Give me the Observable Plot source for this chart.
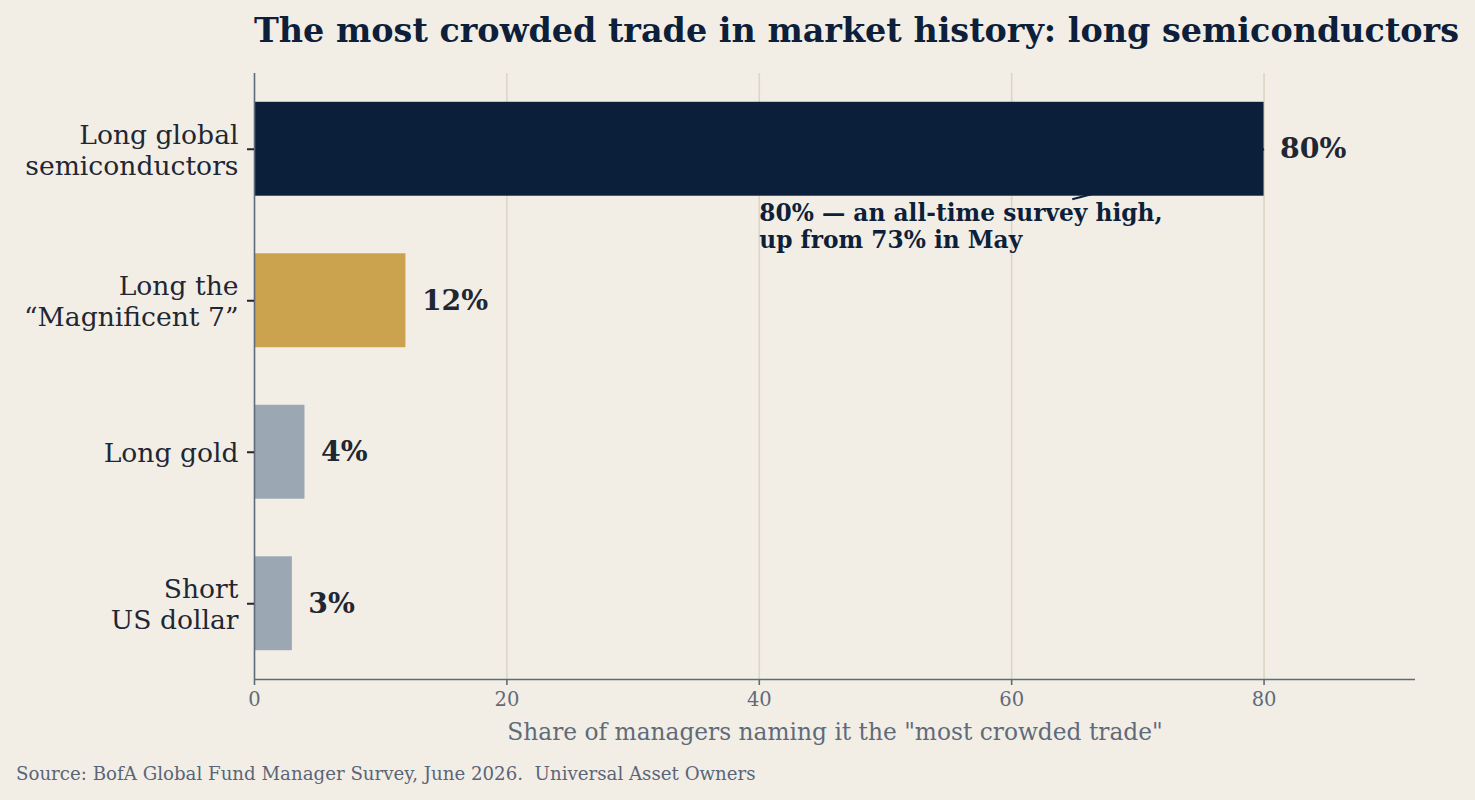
<!DOCTYPE html>
<html>
<head>
<meta charset="utf-8">
<script src="https://cdn.jsdelivr.net/npm/d3@7"></script>
<script src="https://cdn.jsdelivr.net/npm/@observablehq/plot@0.6"></script>
<style>
  html, body { margin: 0; padding: 0; background: #f2eee6; }
  body { width: 1475px; height: 800px; position: relative; overflow: hidden; font-family: "DejaVu Serif", serif; }
  #title { position: absolute; left: 254px; top: 11px; font-size: 33.4px; font-weight: bold; color: #0d1f3a; white-space: nowrap; line-height: 40px; }
  #chart { position: absolute; left: 0; top: 60px; }
  #source { position: absolute; left: 16px; top: 763px; font-size: 18.2px; color: #5a6578; white-space: nowrap; }
</style>
</head>
<body>
<div id="title">The most crowded trade in market history: long semiconductors</div>
<div id="chart"></div>
<div id="source">Source: BofA Global Fund Manager Survey, June 2026.&nbsp; Universal Asset Owners</div>
<script>
// Survey answers, top to bottom
const trades = ["Long global\nsemiconductors", "Long the\n\u201cMagnificent 7\u201d", "Long gold", "Short\nUS dollar"];
const shares = [80, 12, 4, 3];
const groups = ["semis", "mag7", "other", "other"];
const xTicks = [0, 20, 40, 60, 80];

// Callout for the leading answer
const calloutText = "80% \u2014 an all-time survey high,\nup from 73% in May";
const callout = {x: 40, y: 0.35, fromX: 64.8, fromY: 0.33, toX: 80, toY: 0};

const rows = trades.map((trade, i) => ({trade, share: shares[i], group: groups[i], rank: i}));

const navy = "#0c1f3a";
const ink = "#1f2733";
const slate = "#5f6b7a";
const half = 0.31; // half bar thickness, in row units

const chart = Plot.plot({
  width: 1475,
  height: 700,
  marginTop: 13,
  marginBottom: 81,
  marginLeft: 254,
  marginRight: 60,
  style: {background: "transparent", fontFamily: "DejaVu Serif, serif"},
  x: {domain: [0, 92]},
  y: {domain: [-0.5, 3.5], reverse: true},
  color: {type: "ordinal", domain: ["semis", "mag7", "other"], range: [navy, "#cba24d", "#9ba7b3"]},
  marks: [
    Plot.gridX(xTicks.filter(t => t > 0), {stroke: "#ddd6c5", strokeOpacity: 1, strokeWidth: 1.6}),
    // pointer from the callout to the end of the leading bar (passes under it)
    Plot.link([callout], {x1: "fromX", y1: "fromY", x2: "toX", y2: "toY", stroke: navy, strokeWidth: 2}),
    Plot.rectX(rows, {x1: 0, x2: "share", y1: d => d.rank - half, y2: d => d.rank + half, fill: "group"}),
    Plot.text(rows, {x: "share", y: "rank", text: d => `${d.share}%`, dx: 16, textAnchor: "start",
      fontWeight: "bold", fontSize: 28.3, fill: ink}),
    Plot.text([calloutText], {x: callout.x, y: callout.y, textAnchor: "start", lineAnchor: "top",
      fontWeight: "bold", fontSize: 23.3, lineHeight: 1.15, fill: "#0d1f3a"}),
    Plot.ruleX([0], {stroke: slate, strokeWidth: 1.6}),
    Plot.ruleY([3.5], {stroke: slate, strokeWidth: 1.6}),
    Plot.axisY({ticks: rows.map(d => d.rank), tickFormat: i => trades[i], tickSize: 7, tickPadding: 9,
      fontSize: 26.6, lineHeight: 1.17, color: ink, stroke: ink, strokeWidth: 2, label: null}),
    Plot.axisX({ticks: xTicks, tickSize: 6, tickPadding: 7, fontSize: 19.5, color: slate, stroke: slate,
      strokeWidth: 1.6, label: null}),
    Plot.text(["Share of managers naming it the \"most crowded trade\""], {frameAnchor: "bottom", dy: 53,
      lineAnchor: "middle", fontSize: 23.3, fill: slate})
  ]
});
document.getElementById("chart").append(chart);
</script>
</body>
</html>
